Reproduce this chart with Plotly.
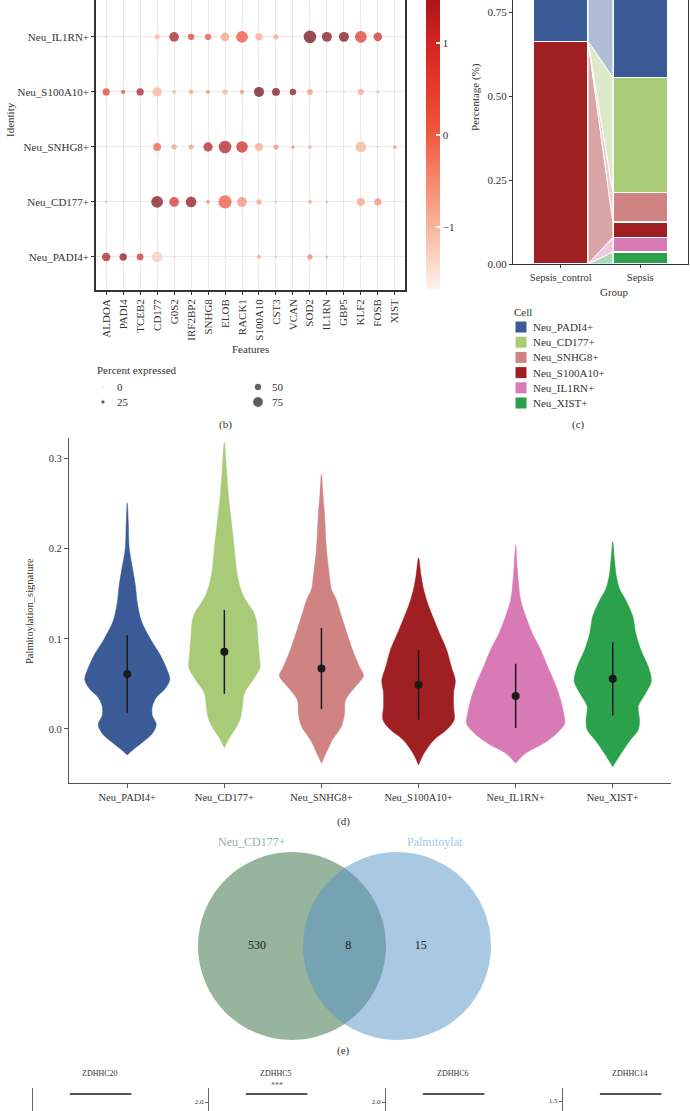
import plotly.graph_objects as go

W, H = 690, 1111
def fx(p): return p / W
def fy(p): return 1 - p / H

FONT = "Liberation Serif"
TXT = "#333333"

# ---------------- (b) dot plot data ----------------
features = ["ALDOA", "PADI4", "TCEB2", "CD177", "G0S2", "IRF2BP2", "SNHG8", "ELOB", "RACK1",
            "S100A10", "CST3", "VCAN", "SOD2", "IL1RN", "GBP5", "KLF2", "FOSB", "XIST"]
identities = ["Neu_PADI4+", "Neu_CD177+", "Neu_SNHG8+", "Neu_S100A10+", "Neu_IL1RN+"]

pct_padi4 = [58, 50, 44, 75, 11, 6, 0, 25, 0, 25, 11, 6, 33, 14, 6, 8, 3, 3]
pct_cd177 = [14, 8, 0, 83, 67, 75, 22, 94, 67, 33, 14, 6, 22, 14, 6, 53, 48, 6]
pct_snhg8 = [6, 6, 0, 53, 33, 31, 64, 89, 81, 53, 31, 19, 19, 6, 3, 75, 8, 19]
pct_s100a10 = [48, 25, 48, 64, 25, 28, 22, 33, 25, 69, 53, 42, 36, 8, 6, 39, 19, 6]
pct_il1rn = [8, 8, 0, 33, 67, 42, 42, 58, 83, 48, 31, 6, 89, 69, 69, 83, 58, 0]

avg_padi4 = [1.5, 1.75, 1.05, -1.2, -1.3, -1.4, -1.6, -1.5, -1.6, -0.8, -1.0, -1.2, -0.4, -0.8, -1.1, -1.1, -1.3, -1.3]
avg_cd177 = [-1.0, -1.1, -1.3, 1.85, 1.0, 1.75, -0.4, 0.25, -0.5, -0.7, -1.0, -1.2, -0.7, -0.8, -1.1, -0.7, -0.5, -1.1]
avg_snhg8 = [-1.0, -1.0, -1.4, 0.1, -0.7, -0.7, 1.45, 1.5, 1.15, -0.8, -0.45, -0.4, -0.7, -1.1, -1.2, -0.9, -1.1, -0.4]
avg_s100a10 = [0.6, 0.4, 1.5, -0.9, -1.0, -0.7, -0.3, -0.9, -0.4, 2.0, 1.85, 1.8, -0.55, -1.0, -1.1, -0.8, -1.0, -1.2]
avg_il1rn = [-1.1, -1.1, -1.3, -0.9, 1.6, 0.6, 0.3, -0.7, 0.3, -0.8, -0.7, -1.0, 2.0, 1.85, 1.85, 0.8, 1.1, -1.5]

size_legend_pct = [0, 25, 50, 75]
colorbar_ticks = [-1, 0, 1]

# ---------------- (c) proportions ----------------
groups = ["Sepsis_control", "Sepsis"]
cell_types = ["Neu_PADI4+", "Neu_CD177+", "Neu_SNHG8+", "Neu_S100A10+", "Neu_IL1RN+", "Neu_XIST+"]
prop_control = [0.336, 0.0, 0.0, 0.664, 0.0, 0.0]
prop_sepsis = [0.444, 0.344, 0.087, 0.045, 0.044, 0.036]
cell_colors = ["#3b5b96", "#a9cb78", "#cf8383", "#a01f22", "#d87ab5", "#2aa14a"]
prop_ticks = [0.0, 0.25, 0.50, 0.75]

# ---------------- (d) violin density profiles (value, relative half-width) ----------------
vlev_padi4 = [0.251, 0.23, 0.20, 0.18, 0.16, 0.14, 0.12, 0.10, 0.08, 0.065, 0.055, 0.045, 0.035, 0.025, 0.015, 0.005, -0.005, -0.015, -0.022, -0.029]
vwid_padi4 = [0, 1, 2, 5, 8, 10, 14, 23, 34, 40, 42.5, 38, 29, 25, 25, 29, 25, 15, 7, 0]
vlev_cd177 = [0.318, 0.29, 0.26, 0.23, 0.20, 0.17, 0.15, 0.14, 0.13, 0.12, 0.10, 0.08, 0.068, 0.055, 0.04, 0.025, 0.012, 0.002, -0.009, -0.021]
vwid_cd177 = [0, 2, 4, 7, 10, 13, 18, 23, 29, 32, 33.5, 35, 35.5, 29, 20, 18, 16, 12, 5.5, 0]
vlev_snhg8 = [0.283, 0.26, 0.24, 0.20, 0.17, 0.155, 0.143, 0.125, 0.106, 0.088, 0.069, 0.059, 0.047, 0.032, 0.017, 0.003, -0.012, -0.027, -0.038]
vwid_snhg8 = [0, 1.5, 3, 5, 8, 10, 15, 20, 25.5, 31, 38, 42, 34, 24, 23, 20, 11, 4.5, 0]
vlev_s100a10 = [0.19, 0.17, 0.155, 0.143, 0.125, 0.106, 0.088, 0.069, 0.054, 0.04, 0.025, 0.01, -0.001, -0.012, -0.027, -0.04]
vwid_s100a10 = [0, 2.5, 5, 8, 14, 21, 28, 32.7, 36.7, 35, 35, 35.5, 28, 15.5, 5.5, 0]
vlev_il1rn = [0.204, 0.18, 0.16, 0.143, 0.125, 0.106, 0.088, 0.069, 0.051, 0.032, 0.017, 0.006, -0.005, -0.016, -0.027, -0.038]
vwid_il1rn = [0, 1.5, 3, 5, 10, 16.7, 25, 32, 39, 45, 48, 49, 41, 28, 10, 0]
vlev_xist = [0.208, 0.19, 0.17, 0.155, 0.143, 0.125, 0.106, 0.088, 0.069, 0.053, 0.04, 0.025, 0.01, -0.001, -0.012, -0.027, -0.042]
vwid_xist = [0, 1.5, 3.5, 7, 13, 20, 23, 28, 35.5, 38.5, 33, 25.5, 26.7, 25.5, 17.8, 8.4, 0]
violin_means = [0.061, 0.0856, 0.067, 0.049, 0.0367, 0.0556]
violin_sds = [0.043, 0.0465, 0.045, 0.0385, 0.0357, 0.0405]
violin_ticks = [0.0, 0.1, 0.2, 0.3]

# ---------------- (e) Venn counts ----------------
venn_sets = ["Neu_CD177+", "Palmitoylat"]
venn_counts = [530, 8, 15]

# ---------------- (f) ZDHHC panels ----------------
zd_genes = ["ZDHHC20", "ZDHHC5", "ZDHHC6", "ZDHHC14"]
zd_bracket_y = [2.45, 2.2, 2.2, 1.675]
zd_signif = ["", "***", "", ""]
zd_ticks = [2.0, 2.0, 2.0, 1.5]

fig = go.Figure()

# ===== (b) dot plot =====
REDS = [[0, "#fff5f0"], [0.185, "#f9b59c"], [0.321, "#f5896c"], [0.457, "#ef5b40"],
        [0.592, "#e63a2a"], [0.728, "#d42522"], [0.864, "#a81419"], [1, "#67000d"]]
pct_rows = [pct_padi4, pct_cd177, pct_snhg8, pct_s100a10, pct_il1rn]
avg_rows = [avg_padi4, avg_cd177, avg_snhg8, avg_s100a10, avg_il1rn]
def dsz(p): return 1 + 0.13 * p
dx, dy, ds, dc = [], [], [], []
for r, (prow, arow) in enumerate(zip(pct_rows, avg_rows)):
    for c, (p, a) in enumerate(zip(prow, arow)):
        dx.append(c); dy.append(r); ds.append(dsz(p)); dc.append(a)
fig.add_trace(go.Scatter(
    x=dx, y=dy, mode="markers", xaxis="x", yaxis="y", hoverinfo="skip", showlegend=False,
    marker=dict(size=ds, color=dc, colorscale=REDS, cmin=-1.68, cmax=2.0, line=dict(width=0),
                showscale=True,
                colorbar=dict(x=fx(426), xanchor="left", y=fy(-49), yanchor="top",
                              len=339 / H, lenmode="fraction", thickness=14, thicknessmode="pixels",
                              xpad=0, ypad=0, outlinewidth=0,
                              tickvals=colorbar_ticks, ticktext=["\u22121", "0", "1"],
                              ticks="inside", ticklen=4, tickcolor="white", tickwidth=1.5,
                              tickfont=dict(family=FONT, size=11, color=TXT)))))

# size legend
lg_col = [0, 0, 1, 1]
lg_row = [0, 1, 0, 1]
fig.add_trace(go.Scatter(x=lg_col, y=lg_row, mode="markers", xaxis="x3", yaxis="y3",
                         marker=dict(size=[dsz(p) for p in size_legend_pct], color="#1a1a1a"),
                         cliponaxis=False, hoverinfo="skip", showlegend=False))

# ===== (c) alluvial stacked bars =====
bw = 0.6875
order_up = [5, 4, 3, 2, 1, 0]
def cum(props):
    lo, hi, s = [0] * 6, [0] * 6, 0.0
    for i in order_up:
        lo[i] = s; s += props[i]; hi[i] = s
    return lo, hi
clo, chi = cum(prop_control)
slo, shi = cum(prop_sepsis)
def rgba(hx, a):
    hx = hx.lstrip("#")
    return "rgba(%d,%d,%d,%.2f)" % (int(hx[0:2], 16), int(hx[2:4], 16), int(hx[4:6], 16), a)
x0f, x1f = bw / 2, 1 - bw / 2
for i in order_up:
    fig.add_trace(go.Scatter(x=[x0f, x1f, x1f, x0f, x0f], y=[clo[i], slo[i], shi[i], chi[i], clo[i]],
                             mode="lines", fill="toself", fillcolor=rgba(cell_colors[i], 0.4),
                             line=dict(color="white", width=1), xaxis="x2", yaxis="y2",
                             hoverinfo="skip", showlegend=False))
for i in order_up:
    fig.add_trace(go.Bar(x=[0, 1], y=[prop_control[i], prop_sepsis[i]], width=bw,
                         marker=dict(color=cell_colors[i], line=dict(color="white", width=1.2)),
                         xaxis="x2", yaxis="y2", hoverinfo="skip", showlegend=False))

# cell legend
fig.add_trace(go.Scatter(x=[0.5] * 6, y=list(range(6)), mode="markers", xaxis="x4", yaxis="y4",
                         marker=dict(symbol="square", size=11, color=cell_colors),
                         cliponaxis=False, hoverinfo="skip", showlegend=False))

# ===== (d) violins =====
WS = 1 / 97.0
vlevs = [vlev_padi4, vlev_cd177, vlev_snhg8, vlev_s100a10, vlev_il1rn, vlev_xist]
vwids = [vwid_padi4, vwid_cd177, vwid_snhg8, vwid_s100a10, vwid_il1rn, vwid_xist]
for i, (lv, wd) in enumerate(zip(vlevs, vwids)):
    xr = [i + w * WS for w in wd]
    xl = [i - w * WS for w in reversed(wd)]
    fig.add_trace(go.Scatter(x=xr + xl, y=lv + lv[::-1], mode="lines", fill="toself",
                             fillcolor=cell_colors[i],
                             line=dict(color=cell_colors[i], width=0.5, shape="spline", smoothing=0.9),
                             xaxis="x5", yaxis="y5", hoverinfo="skip", showlegend=False))
fig.add_trace(go.Scatter(x=list(range(6)), y=violin_means, mode="markers", xaxis="x5", yaxis="y5",
                         marker=dict(size=8, color="#1a1a1a"),
                         error_y=dict(type="data", array=violin_sds, visible=True, thickness=1.5,
                                      width=0, color="#1a1a1a"),
                         hoverinfo="skip", showlegend=False))

# ===== (e) Venn =====
VR = 1.0
vc = [-0.5585, 0.5585]
venn_fill = ["rgba(47,105,57,0.5)", "rgba(83,145,197,0.5)"]
shapes = []
for c, f in zip(vc, venn_fill):
    shapes.append(dict(type="circle", xref="x6", yref="y6", x0=c - VR, x1=c + VR, y0=-VR, y1=VR,
                       fillcolor=f, line=dict(width=0), layer="below"))
venn_label_x = [-0.93, 0.04, 0.81]
fig.add_trace(go.Scatter(x=venn_label_x, y=[0, 0, 0], mode="text", text=[str(v) for v in venn_counts],
                         textfont=dict(family=FONT, size=12, color="#222222"),
                         xaxis="x6", yaxis="y6", hoverinfo="skip", showlegend=False))

# ===== (f) ZDHHC brackets =====
zd_axis_px = [33, 209, 386, 563]
zd_ranges = [(2.025, 2.6), (1.775, 2.35), (1.775, 2.35), (1.25, 1.825)]
for k in range(4):
    ax = str(7 + k)
    fig.add_trace(go.Scatter(x=[0, 1], y=[zd_bracket_y[k]] * 2, mode="lines",
                             line=dict(color="#555555", width=2), xaxis="x" + ax, yaxis="y" + ax,
                             hoverinfo="skip", showlegend=False))

# ===== layout =====
tickfont = dict(family=FONT, size=11, color=TXT)
lay = dict(
    width=W, height=H, margin=dict(l=0, r=0, t=0, b=0, autoexpand=False),
    paper_bgcolor="white", plot_bgcolor="white",
    font=dict(family=FONT, color=TXT), barmode="stack", showlegend=False,
    xaxis=dict(domain=[fx(96), fx(405)], range=[-0.6, 17.6], tickvals=list(range(18)), ticktext=features,
               tickangle=-90, showgrid=True, gridcolor="#ebebeb", gridwidth=1, zeroline=False,
               showline=True, linecolor="#333333", linewidth=1.5, mirror=True, ticks="outside",
               ticklen=3, tickcolor="#333333", tickfont=tickfont, anchor="y"),
    yaxis=dict(domain=[fy(290), 1], range=[-0.6, 4.67], tickvals=list(range(5)), ticktext=identities,
               showgrid=True, gridcolor="#ebebeb", gridwidth=1, zeroline=False,
               showline=True, linecolor="#333333", linewidth=1.5, mirror=True, ticks="outside",
               ticklen=3, tickcolor="#333333", tickfont=tickfont, anchor="x"),
    xaxis2=dict(domain=[fx(513), fx(688)], range=[-0.6, 1.6], tickvals=[0, 1], ticktext=groups,
                showgrid=False, zeroline=False, showline=True, linecolor="#333333", linewidth=1.3,
                ticks="outside", ticklen=3, tickcolor="#333333",
                tickfont=dict(family=FONT, size=10.5, color=TXT), anchor="y2"),
    yaxis2=dict(domain=[fy(264), 1], range=[0, 0.787], tickvals=prop_ticks,
                ticktext=["%.2f" % t for t in prop_ticks], showgrid=False, zeroline=False,
                showline=True, linecolor="#333333", linewidth=1.3, mirror=True, ticks="outside",
                ticklen=3, tickcolor="#333333", tickfont=tickfont, anchor="x2"),
    xaxis3=dict(domain=[fx(103), fx(258)], range=[0, 1], visible=False, anchor="y3"),
    yaxis3=dict(domain=[fy(402), fy(387)], range=[1, 0], visible=False, anchor="x3"),
    xaxis4=dict(domain=[fx(516), fx(526)], range=[0, 1], visible=False, anchor="y4"),
    yaxis4=dict(domain=[fy(403), fy(327)], range=[5, 0], visible=False, anchor="x4"),
    xaxis5=dict(domain=[fx(69), fx(671)], range=[-0.6, 5.6], tickvals=list(range(6)), ticktext=cell_types,
                showgrid=False, zeroline=False, showline=True, linecolor="#555555", linewidth=1.3,
                ticks="outside", ticklen=4, tickcolor="#555555",
                tickfont=dict(family=FONT, size=10.5, color=TXT), anchor="y5"),
    yaxis5=dict(domain=[fy(783), fy(438)], range=[-0.06, 0.323], tickvals=violin_ticks,
                ticktext=["%.1f" % t for t in violin_ticks], showgrid=False, zeroline=False,
                showline=True, linecolor="#555555", linewidth=1.3, ticks="outside", ticklen=4,
                tickcolor="#555555", tickfont=dict(family=FONT, size=10.5, color=TXT), anchor="x5"),
    xaxis6=dict(domain=[fx(150), fx(550)], range=[-2.069, 2.186], visible=False, anchor="y6"),
    yaxis6=dict(domain=[fy(1045), fy(830)], range=[-1.053, 1.234], visible=False, anchor="x6"),
    shapes=shapes,
)
for k in range(4):
    ax = str(7 + k)
    left = zd_axis_px[k]
    right = min(left + 135.3, W)
    xr_hi = -0.6 + (right - left) / 61.5
    lay["xaxis" + ax] = dict(domain=[fx(left), fx(right)], range=[-0.6, xr_hi], visible=False, anchor="y" + ax)
    lay["yaxis" + ax] = dict(domain=[0, fy(1088)], range=list(zd_ranges[k]), tickvals=[zd_ticks[k]],
                             ticktext=["%.1f" % zd_ticks[k]], showgrid=False, zeroline=False,
                             showline=True, linecolor="#666666", linewidth=1, ticks="outside",
                             ticklen=3, tickcolor="#666666",
                             tickfont=dict(family=FONT, size=7, color=TXT), anchor="x" + ax)
fig.update_layout(**lay)

def ann(text, px, py, size=11, angle=0, xanchor="center", color=TXT):
    fig.add_annotation(text=text, x=fx(px), y=fy(py), xref="paper", yref="paper", showarrow=False,
                       font=dict(family=FONT, size=size, color=color), textangle=angle,
                       xanchor=xanchor, yanchor="middle")

ann("Identity", 10, 120, angle=-90)
ann("Features", 250, 349)
ann("Percent expressed", 95, 370, xanchor="left")
ann("(b)", 226, 424)
ann("(c)", 578, 424)
ann("Percentage (%)", 475, 97, angle=-90)
ann("Group", 614, 292)
ann("Cell", 512, 312, xanchor="left")
ann("Palmitoylation_signature", 29, 611, size=10.5, angle=-90)
ann("(d)", 343, 821)
ann("(e)", 343, 1050)
ann(venn_sets[0], 252, 842, size=12, color="#8fb29a")
ann(venn_sets[1], 435, 842, size=12, color="#a6c6e2")
for k, g in enumerate(zd_genes):
    left = zd_axis_px[k]
    ann(g, left + 67, 1073, size=8)
    if zd_signif[k]:
        fig.add_annotation(text=zd_signif[k], x=0.5, y=zd_bracket_y[k], xref="x" + str(7 + k),
                           yref="y" + str(7 + k), showarrow=False, yshift=9,
                           font=dict(family=FONT, size=8, color="#555555"))

for p, c, r in zip(size_legend_pct, lg_col, lg_row):
    fig.add_annotation(text=str(p), x=c, y=r, xref="x3", yref="y3", showarrow=False, xanchor="left",
                       xshift=12, font=dict(family=FONT, size=11, color=TXT))
for i, name in enumerate(cell_types):
    fig.add_annotation(text=name, x=0.5, y=i, xref="x4", yref="y4", showarrow=False, xanchor="left",
                       xshift=10, font=dict(family=FONT, size=11, color=TXT))

fig.write_html("out.html")
